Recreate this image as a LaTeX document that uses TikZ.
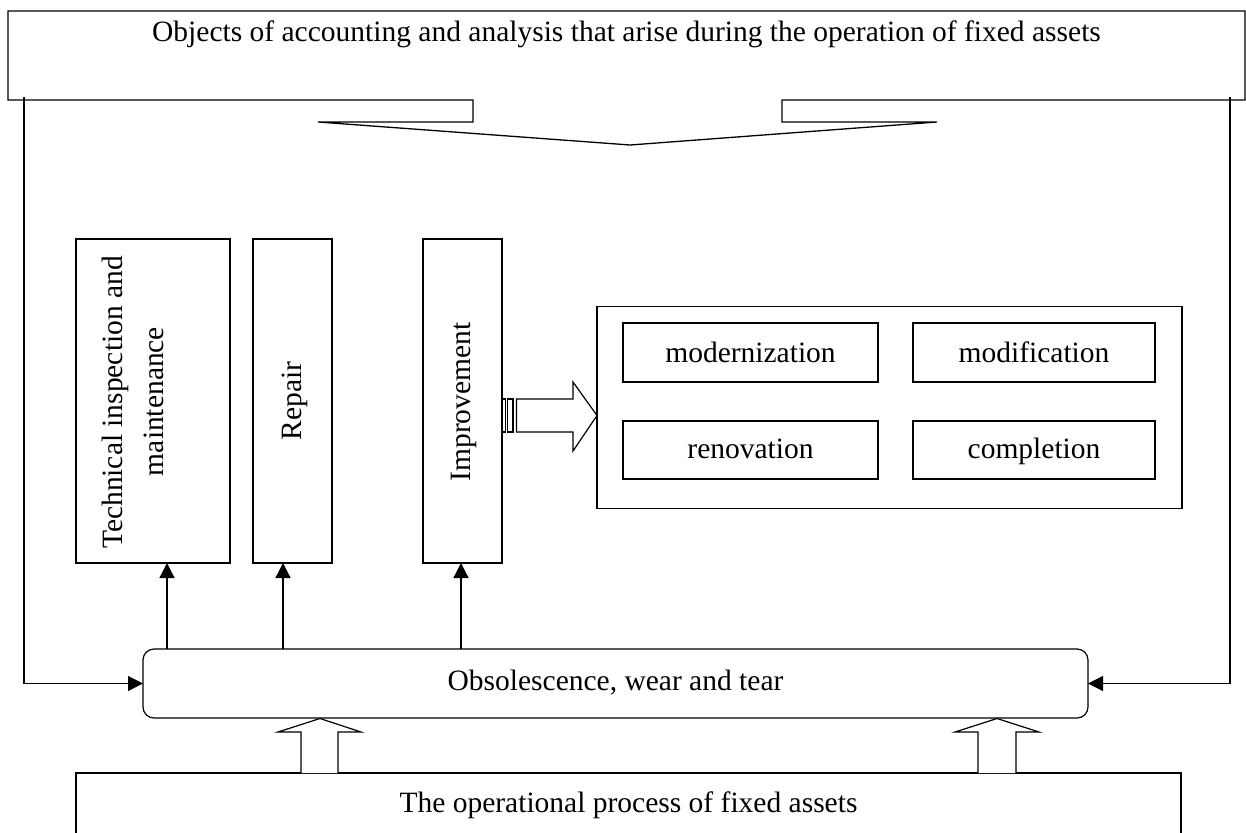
\documentclass[tikz,border=0pt]{standalone}
\usepackage{fontspec}
\setmainfont{Liberation Serif}
\usetikzlibrary{arrows.meta}
\begin{document}
\begin{tikzpicture}[x=1pt,y=-1pt,
  line width=1.2pt,
  boxshape/.style={draw, line width=1.2pt, inner sep=0pt, outer sep=0pt},
  lbl/.style={font=\fontsize{29.5}{34}\selectfont, inner sep=0pt},
  arr/.style={-{Triangle[length=15pt,width=15pt]}, line width=1.3pt},
  hollow/.style={draw, line width=1.2pt, fill=white, line join=miter}
]
\useasboundingbox (0,0) rectangle (1246,832);
\fill[white] (0,0) rectangle (1246,832);

% top callout
\draw[line width=1.3pt, line join=miter] (8,11) -- (1245,11) -- (1245,100) -- (782,100) -- (782,122) -- (937,122) -- (630,145) -- (318,122) -- (473,122) -- (473,100) -- (8,100) -- cycle;
\node[lbl, anchor=base] (title) at (626.5,42) {Objects of accounting and analysis that arise during the operation of fixed assets};
\coordinate (tl) at (24,97);
\coordinate (tr) at (1230,97);

% left column boxes
\node[boxshape, minimum width=154pt, minimum height=324pt] (tech) at (153,401) {};
\node[boxshape, minimum width=79pt, minimum height=324pt] (repair) at (292.5,401) {};
\node[boxshape, minimum width=79pt, minimum height=324pt] (impr) at (462.5,401) {};
\node[lbl, rotate=90, anchor=base] (techA) at (122,402.5) {Technical inspection and};
\node[lbl, rotate=90, anchor=base] (techB) at (163,401.5) {maintenance};
\node[lbl, rotate=90, anchor=base] (repairT) at (301,401) {Repair};
\node[lbl, rotate=90, anchor=base] (imprT) at (470,402) {Improvement};

% right group
\node[boxshape, minimum width=585pt, minimum height=202pt] (group) at (889.5,407.5) {};
\node[boxshape, minimum width=255pt, minimum height=59pt] (modern) at (750.5,352.5) {};
\node[boxshape, minimum width=242pt, minimum height=59pt] (modif) at (1034,352.5) {};
\node[boxshape, minimum width=255pt, minimum height=58pt] (renov) at (750.5,450) {};
\node[boxshape, minimum width=242pt, minimum height=58pt] (compl) at (1034,450) {};
\node[lbl, anchor=base] (modernT) at (750.5,362) {modernization};
\node[lbl, anchor=base] (modifT) at (1034,362) {modification};
\node[lbl, anchor=base] (renovT) at (750.5,458) {renovation};
\node[lbl, anchor=base] (complT) at (1034,458) {completion};

% striped arrow from Improvement to group
\draw[line width=1.1pt] (impr.east |- 0,399) rectangle (505.5,432);
\draw[line width=1.1pt] (507.5,399) rectangle (513,432);
\draw[hollow] (516.5,399) -- (573,399) -- (573,382) -- (group.west |- 0,415.5) -- (573,451) -- (573,432) -- (516.5,432) -- cycle;

% obsolescence box
\node[boxshape, rounded corners=11pt, minimum width=945pt, minimum height=69pt] (obs) at (615.5,683.5) {};
\node[lbl, anchor=base] (obsT) at (615.5,690) {Obsolescence, wear and tear};

% operational box
\node[boxshape, minimum width=1105pt, minimum height=77pt] (op) at (628.5,811.5) {};
\node[lbl, anchor=base] (opT) at (628.5,812) {The operational process of fixed assets};

% side connectors
\draw[arr] (tl) |- (obs.west);
\draw[arr] (tr) |- (obs.east);

% up arrows
\coordinate (xa) at (167,0);
\coordinate (xb) at (283,0);
\coordinate (xc) at (461,0);
\draw[arr] (obs.north -| xa) -- (tech.south -| xa);
\draw[arr] (obs.north -| xb) -- (repair.south -| xb);
\draw[arr] (obs.north -| xc) -- (impr.south -| xc);

% hollow up arrows
\draw[hollow] (301,773) -- (301,732) -- (278,732) -- (320,718.5) -- (361,732) -- (338,732) -- (338,773);
\draw[hollow] (978,773) -- (978,732) -- (955,732) -- (997,718.5) -- (1039,732) -- (1016,732) -- (1016,773);
\end{tikzpicture}
\end{document}
